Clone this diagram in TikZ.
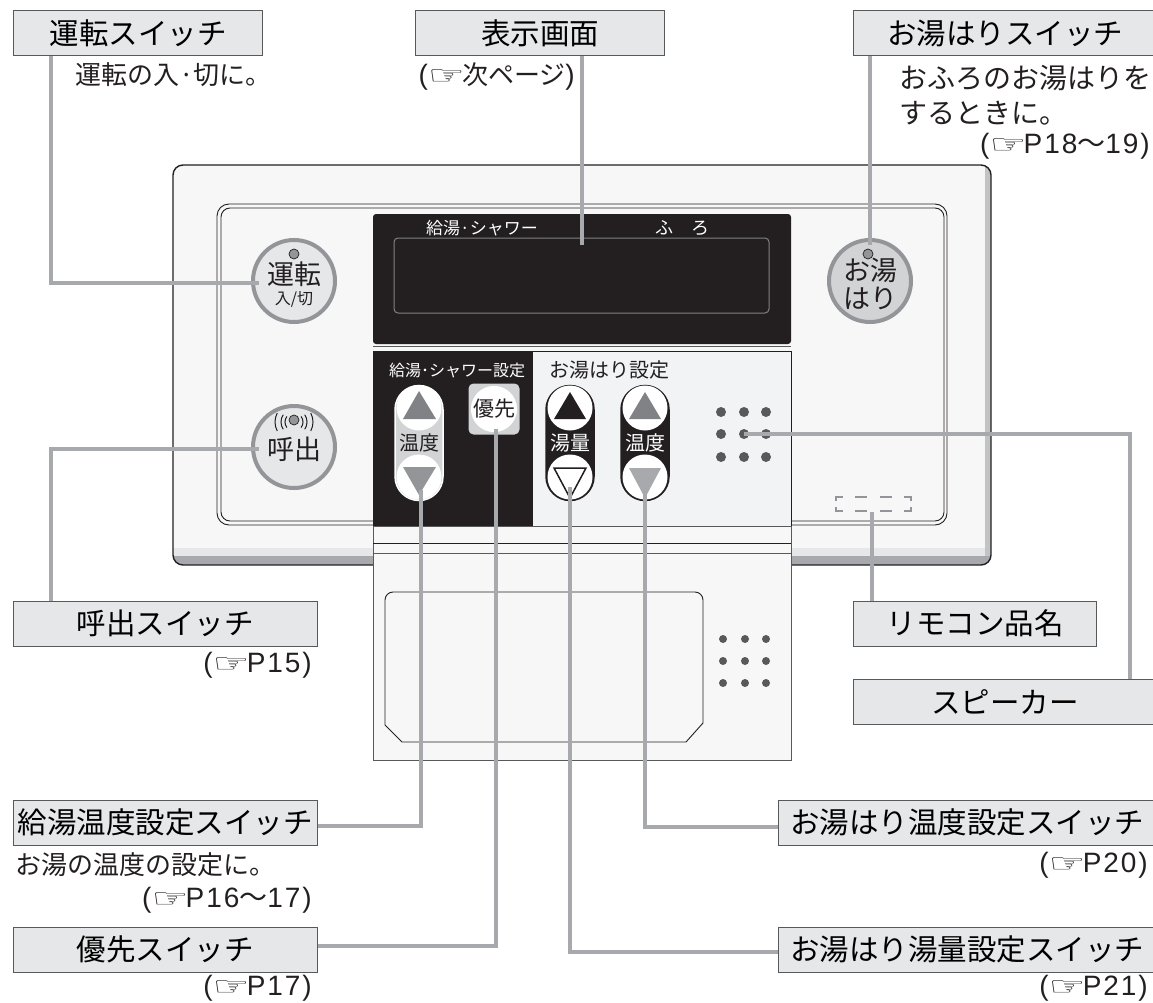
\documentclass[tikz,border=0pt]{standalone}
\usepackage{xcolor}
\usepackage{fontspec}
\setmainfont{Noto Sans CJK JP}
\newfontfamily\handfont{DejaVu Sans}
\newfontfamily\latinfont[LetterSpace=7]{Liberation Sans}
\usetikzlibrary{shapes}
\usetikzlibrary{positioning}
\definecolor{tagfill}{HTML}{E6E7E8}
\definecolor{leadgray}{HTML}{A7A9AC}
\definecolor{panelfill}{HTML}{F7F7F7}
\definecolor{setfill}{HTML}{F2F3F5}
\definecolor{inkblack}{HTML}{231F20}
\definecolor{ringgray}{HTML}{939598}
\definecolor{dotgray}{HTML}{58595B}
\definecolor{arrowgray}{HTML}{808285}
\definecolor{pillgray}{HTML}{D1D3D4}
\newcommand{\hand}{{\handfont\fontsize{36}{36}\selectfont\raisebox{0pt}{\scalebox{1.15}[0.72]{☞}}\hspace{-3pt}}}
\newcommand{\wave}{{\normalfont\fontsize{28}{30}\selectfont 〜}}
\tikzset{
  tagbox/.style={rectangle,draw=dotgray,line width=1pt,fill=tagfill,inner sep=0pt,minimum height=45pt,font=\fontsize{29.5}{35}\selectfont},
  note/.style={inner sep=0pt,text=inkblack,font=\fontsize{26}{30}\selectfont},
  pageref/.style={inner sep=0pt,text=inkblack,font=\fontsize{28}{30}\latinfont},
  pushbtn/.style={circle,draw=ringgray,line width=4pt,inner sep=0pt,minimum size=82pt},
  btntext/.style={inner sep=0pt,text=inkblack,font=\fontsize{27}{30}\selectfont},
  pill/.style={rectangle,rounded corners=24pt,inner sep=0pt,minimum width=48pt,minimum height=115pt,font=\fontsize{20}{22}\selectfont},
  keycap/.style={circle,fill=white,inner sep=0pt,minimum size=45pt},
  leader/.style={draw=leadgray,line width=3.6pt},
  thinline/.style={draw=inkblack,line width=0.9pt}
}
\begin{document}
\begin{tikzpicture}[x=1pt,y=-1pt]
  \useasboundingbox (0,0) rectangle (1153,1003);

  % panel body
  \fill[panelfill,rounded corners=10pt] (173,165) rectangle (991,565);
  \begin{scope}
    \clip[rounded corners=10pt] (173,165) rectangle (991,565);
    \fill[leadgray!70] (985,165) rectangle (991,565);
    \fill[tagfill] (173,548) rectangle (985,556);
    \fill[leadgray] (173,556) rectangle (991,565);
  \end{scope}
  \draw[inkblack,line width=1.4pt,rounded corners=10pt] (173,165) rectangle (991,565);
  \draw[thinline,rounded corners=12pt] (217,204) rectangle (947,525);
  \draw[thinline,rounded corners=9pt] (221,208) rectangle (944,521);

  % display
  \fill[inkblack,rounded corners=3pt] (373,214) rectangle (791,344);
  \draw[dotgray,line width=1pt] (373,346) -- (791,346);
  \draw[arrowgray,line width=1pt,rounded corners=4pt] (394,238) rectangle (769,313);
  \node (dispwater) at (482,228) [inner sep=0pt,text=white,font=\fontsize{17}{18}\selectfont] {給湯·シャワー};
  \node (dispbath) at (682,228) [inner sep=0pt,text=white,font=\fontsize{18}{20}\selectfont] {ふ　ろ};

  % settings area
  \fill[setfill] (373,351) rectangle (791,526);
  \draw[thinline] (533,351) -- (791,351) -- (791,526);
  \fill[inkblack] (373,351) rectangle (533,526);
  \node (setwater) at (457,370) [inner sep=0pt,text=white,font=\fontsize{16}{18}\selectfont] {給湯･シャワー設定};
  \node (setbath) at (609,370) [inner sep=0pt,text=inkblack,font=\fontsize{20}{22}\selectfont] {お湯はり設定};

  % lid
  \fill[panelfill] (373,526) rectangle (791,760);
  \draw[dotgray,line width=1pt] (373,526) rectangle (791,760);
  \draw[thinline] (373,543) -- (791,543);
  \draw[dotgray,line width=1pt] (373,553) -- (791,553);
  \draw[thinline,rounded corners=8pt] (385,725) -- (385,592) -- (703,592) -- (703,723);
  \draw[thinline] (385,725) -- (402,742) -- (686,742) -- (703,723);

  % speaker holes
  \foreach \x in {721,744,766}
    \foreach \y in {412,434,457}
      \fill[dotgray] (\x,\y) circle (5);
  \foreach \x in {723,745,766}
    \foreach \y in {639,661,683}
      \fill[dotgray] (\x,\y) circle (4);

  % model name mark
  \begin{scope}[draw=ringgray,line width=1.2pt]
    \draw (836,501) |- (843,497);
    \draw (836,507) |- (843,511);
    \draw (911,501) |- (904,497);
    \draw (911,507) |- (904,511);
    \foreach \x in {855,880} {
      \draw (\x,497) -- +(12,0);
      \draw (\x,511) -- +(12,0);
    }
  \end{scope}

  % round buttons
  \node[pushbtn,fill=tagfill] (btnrun) at (294,281) {};
  \node[pushbtn,fill=tagfill] (btncall) at (294,447) {};
  \node[pushbtn,fill=pillgray] (btnfill) at (870,281) {};
  \begin{scope}[every node/.style={btntext}]
    \node (txtrun) at (294,274) {運転};
    \node (txtcall) at (294,449) {呼出};
    \node (txtfilla) at (870,270) {お湯};
    \node (txtfillb) at (870,298) {はり};
  \end{scope}
  \node (txtonoff) at (294,299) [inner sep=0pt,text=inkblack,font=\fontsize{16}{18}\selectfont] {入/切};
  \draw[inkblack,line width=0.7pt,fill=ringgray] (294,254) circle (5);
  \draw[inkblack,line width=0.7pt,fill=ringgray] (294,420) circle (5);
  \draw[inkblack,line width=0.7pt,fill=ringgray] (868,254) circle (5);
  \begin{scope}[shift={(294,422)}]
    \foreach \r/\a in {9/38,13/34,19/28} {
      \draw[inkblack,line width=1pt] (180-\a:\r) arc (180-\a:180+\a:\r);
      \draw[inkblack,line width=1pt] (\a:\r) arc (\a:-\a:\r);
    }
  \end{scope}

  % temperature keys, water side
  \node[pill,draw=white,line width=1.5pt,fill=pillgray,text=inkblack] (pilltemp) at (419,443) {温度};
  \node[keycap] (uptemp) at (419,408) {};
  \node[keycap] (dntemp) at (419,477) {};
  \fill[arrowgray] (403,419) -- (436,419) -- (419,391) -- cycle;
  \fill[ringgray] (403,467) -- (436,467) -- (419,495) -- cycle;
  \node[rectangle,rounded corners=5pt,fill=pillgray,minimum size=51pt,inner sep=0pt] (prioback) at (494,409) {};
  \node[keycap,minimum size=42pt,text=inkblack,font=\fontsize{21}{23}\selectfont] (priokey) at (494,409) {優先};

  % bath keys
  \node[pill,draw=inkblack,line width=1.5pt,fill=inkblack,text=white] (pillvol) at (570,443) {湯量};
  \node[keycap] (upvol) at (570,408) {};
  \node[keycap] (dnvol) at (570,477) {};
  \fill[inkblack] (554,419) -- (586,419) -- (570,392) -- cycle;
  \draw[inkblack,line width=1.5pt,fill=white] (554,468) -- (586,468) -- (570,498) -- cycle;
  \node[pill,draw=inkblack,line width=1.5pt,fill=inkblack,text=white] (pillheat) at (645,443) {温度};
  \node[keycap] (upheat) at (645,408) {};
  \node[keycap] (dnheat) at (645,477) {};
  \fill[arrowgray] (629,419) -- (661,419) -- (645,392) -- cycle;
  \fill[leadgray] (629,468) -- (661,468) -- (645,498) -- cycle;

  % name tags
  \node[tagbox,minimum width=249pt] (tagrun) at (138,33.5) {運転スイッチ};
  \node[tagbox,minimum width=249pt] (tagdisp) at (540,33.5) {表示画面};
  \node[tagbox,minimum width=304pt] (tagfill) at (1005,33.5) {お湯はりスイッチ};
  \node[tagbox,minimum width=304pt] (tagcall) at (165,623.5) {呼出スイッチ};
  \node[tagbox,minimum width=243pt] (tagmodel) at (975,623.5) {リモコン品名};
  \node[tagbox,minimum width=304pt] (tagspeak) at (1005,701.5) {スピーカー};
  \node[tagbox,minimum width=304pt] (tagtemp) at (165,822.5) {給湯温度設定スイッチ};
  \node[tagbox,minimum width=378pt] (tagheat) at (967,822.5) {お湯はり温度設定スイッチ};
  \node[tagbox,minimum width=304pt] (tagprio) at (165,949.5) {優先スイッチ};
  \node[tagbox,minimum width=378pt] (tagvol) at (967,949.5) {お湯はり湯量設定スイッチ};

  % notes
  \begin{scope}[every node/.style={note}]
    \node[anchor=west] (noterun) at (75,75) {運転の入·切に。};
    \node[anchor=west,font=\fontsize{28}{30}\selectfont] (notefilla) at (899,78) {おふろのお湯はりを};
    \node[anchor=west,font=\fontsize{28}{30}\selectfont] (notefillb) at (899,113) {するときに。};
    \node[anchor=west] (notetempa) at (15,865) {お湯の温度の設定に。};
  \end{scope}
  \begin{scope}[every node/.style={pageref}]
    \node[anchor=east] (notedisp) at (575,77) {(\hand{\normalfont\fontsize{26}{30}\selectfont 次ページ})};
    \node[anchor=east] (notefillc) at (1150,146) {(\hand P18\wave 19)};
    \node[anchor=east] (notecall) at (312,665) {(\hand P15)};
    \node[anchor=east] (notetempb) at (312,900) {(\hand P16\wave 17)};
    \node[anchor=east] (noteprio) at (312,988) {(\hand P17)};
    \node[anchor=east] (noteheat) at (1148,865) {(\hand P20)};
    \node[anchor=east] (notevol) at (1148,988) {(\hand P21)};
  \end{scope}

  % leader lines
  \coordinate (tiprun) at (259,283);
  \coordinate (kneerun) at (51,283);
  \coordinate (tipcall) at (259,449);
  \coordinate (kneecall) at (51,449);
  \coordinate (tipdisp) at (582,245);
  \coordinate (tipfill) at (870,245);
  \coordinate (kneetemp) at (421,826);
  \coordinate (tiptemp) at (421,490);
  \coordinate (kneeprio) at (496,946);
  \coordinate (tipprio) at (496,429);
  \coordinate (kneeheat) at (645,827);
  \coordinate (tipheat) at (645,492);
  \coordinate (kneevol) at (570,952);
  \coordinate (tipvol) at (570,487);
  \coordinate (tipmodel) at (872,512);
  \coordinate (tipspeak) at (744,434);
  \coordinate (kneespeak) at (1130,434);
  \begin{scope}[every path/.style={leader}]
    \draw (tagrun.south -| kneerun) -- (kneerun) -- (tiprun);
    \draw (tagcall.north -| kneecall) -- (kneecall) -- (tipcall);
    \draw (tagdisp.south -| tipdisp) -- (tipdisp);
    \draw (tagfill.south -| tipfill) -- (tipfill);
    \draw (tagtemp.east |- kneetemp) -- (kneetemp) -- (tiptemp);
    \draw (tagprio.east |- kneeprio) -- (kneeprio) -- (tipprio);
    \draw (tagheat.west |- kneeheat) -- (kneeheat) -- (tipheat);
    \draw (tagvol.west |- kneevol) -- (kneevol) -- (tipvol);
    \draw (tagmodel.north -| tipmodel) -- (tipmodel);
    \draw (tagspeak.north -| kneespeak) -- (kneespeak) -- (tipspeak);
  \end{scope}
\end{tikzpicture}
\end{document}
